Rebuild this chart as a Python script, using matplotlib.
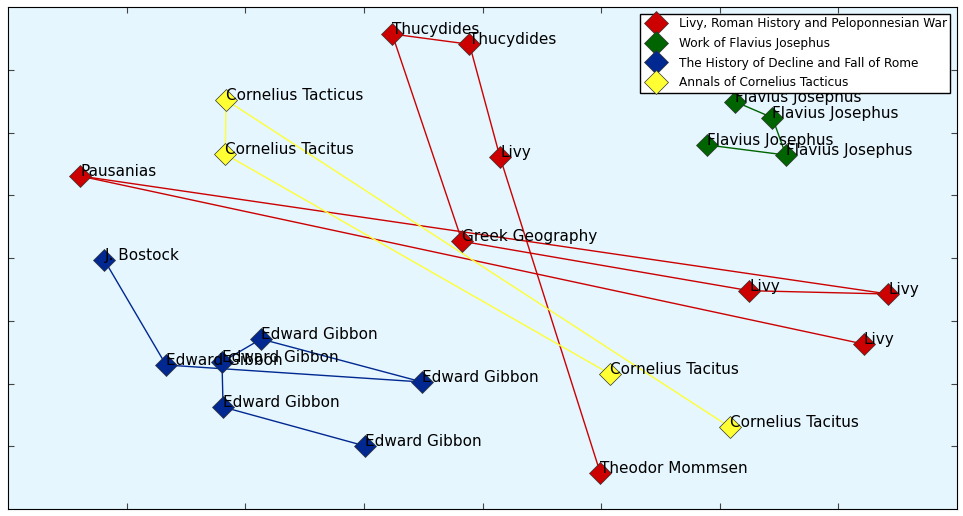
import matplotlib
matplotlib.use("Agg")
import matplotlib.pyplot as plt
from matplotlib.lines import Line2D

# node positions in data units (0..8 on both axes)
red_names = ["Thucydides", "Thucydides", "Livy", "Pausanias", "Greek Geography",
             "Livy", "Livy", "Livy", "Theodor Mommsen"]
red_x = [3.238, 3.890, 4.148, 0.607, 3.828, 6.250, 7.422, 7.212, 4.994]
red_y = [7.570, 7.406, 5.605, 5.307, 4.266, 3.479, 3.426, 2.629, 0.569]
red_edges = [(0, 1), (0, 4), (1, 2), (2, 8), (3, 6), (3, 7), (4, 5), (5, 6)]

green_names = ["Flavius Josephus"] * 4
green_x = [6.130, 6.444, 5.896, 6.557]
green_y = [6.491, 6.236, 5.801, 5.641]
green_edges = [(0, 1), (1, 3), (2, 3)]

blue_names = ["J. Bostock"] + ["Edward Gibbon"] * 6
blue_x = [0.812, 1.332, 1.804, 2.133, 3.491, 1.813, 3.010]
blue_y = [3.968, 2.295, 2.343, 2.709, 2.024, 1.625, 1.004]
blue_edges = [(0, 1), (1, 4), (2, 3), (3, 4), (2, 5), (5, 6)]

yellow_names = ["Cornelius Tacticus", "Cornelius Tacitus", "Cornelius Tacitus", "Cornelius Tacitus"]
yellow_x = [1.838, 1.832, 5.076, 6.088]
yellow_y = [6.518, 5.653, 2.151, 1.302]
yellow_edges = [(0, 1), (0, 3), (1, 2)]

groups = [
    ("Livy, Roman History and Peloponnesian War", "#cc0000", red_names, red_x, red_y, red_edges),
    ("Work of Flavius Josephus", "#006400", green_names, green_x, green_y, green_edges),
    ("The History of Decline and Fall of Rome", "#002890", blue_names, blue_x, blue_y, blue_edges),
    ("Annals of Cornelius Tacticus", "#ffff33", yellow_names, yellow_x, yellow_y, yellow_edges),
]

fig = plt.figure(figsize=(9.63, 5.16), dpi=100)
ax = fig.add_axes([8 / 963, 7 / 516, 949 / 963, 502 / 516])
ax.set_facecolor("#e5f6fe")

# edges first
for label, color, names, xs, ys, edges in groups:
    for a, b in edges:
        ax.plot([xs[a], xs[b]], [ys[a], ys[b]], color=color, lw=1, zorder=1)

# nodes and labels
handles = []
for label, color, names, xs, ys, edges in groups:
    ax.plot(xs, ys, linestyle="none", marker="D", ms=11, color=color,
            markeredgecolor="#333333", markeredgewidth=0.5, zorder=2)
    for name, x, y in zip(names, xs, ys):
        ax.text(x, y, name, fontsize=11, ha="left", va="baseline", zorder=3)
    handles.append(Line2D([], [], linestyle="none", marker="D", ms=12, color=color,
                          markeredgecolor="#333333", markeredgewidth=0.5, label=label))

ax.set_xlim(0, 8)
ax.set_ylim(0, 8)
ax.set_xticks(range(1, 8))
ax.set_yticks(range(1, 8))
ax.tick_params(direction="in", top=True, right=True, labelbottom=False, labelleft=False,
               length=4, color="#444444")

leg = ax.legend(handles=handles, loc="upper right", fontsize=8.75, fancybox=False,
                framealpha=1, edgecolor="black", borderaxespad=0.55,
                handletextpad=0.9, labelspacing=0.55, borderpad=0.3)
leg.get_frame().set_linewidth(1)

fig.savefig("out.png", dpi=100)
